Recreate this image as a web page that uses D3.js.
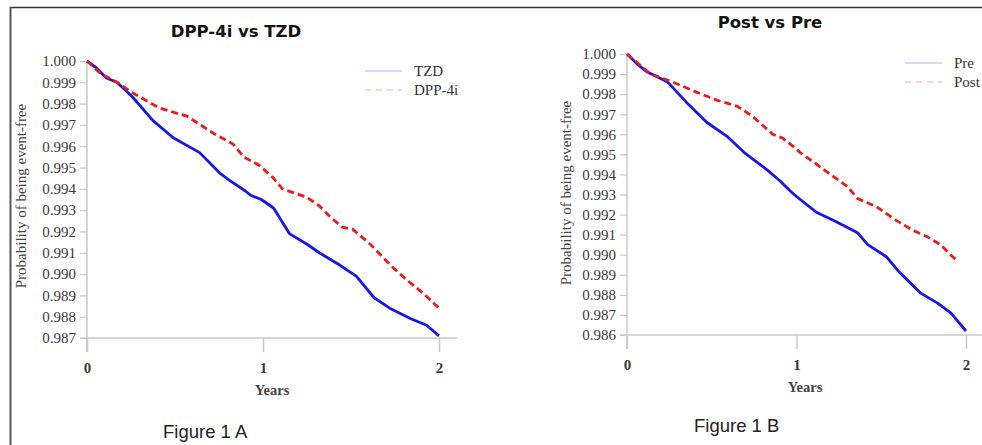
<!doctype html>
<html lang="en">
<head>
<meta charset="utf-8">
<script src="https://d3js.org/d3.v7.min.js"></script>
<style>
  body { margin: 0; background: #fff; }
  svg { display: block; }
</style>
</head>
<body>
<div id="viz"></div>
<script>
// ---- data ----
const yearTicks = [0, 1, 2];

// Figure 1 A
const tzdTime = [0, 0.05, 0.11, 0.17, 0.26, 0.375, 0.49, 0.64, 0.76, 0.81, 0.9, 0.93, 0.99, 1.06, 1.15, 1.25, 1.32, 1.44, 1.53, 1.63, 1.72, 1.84, 1.93, 2.0];
const tzdSurv = [1.0, 0.9997, 0.9992, 0.9990, 0.9983, 0.9972, 0.9964, 0.9957, 0.9947, 0.9944, 0.9939, 0.9937, 0.9935, 0.9931, 0.9919, 0.9914, 0.9910, 0.9904, 0.9899, 0.9889, 0.9884, 0.9879, 0.9876, 0.9871];
const dppTime = [0, 0.08, 0.17, 0.26, 0.41, 0.57, 0.72, 0.83, 0.89, 0.98, 1.06, 1.11, 1.25, 1.32, 1.38, 1.45, 1.51, 1.61, 1.68, 1.74, 1.82, 1.91, 2.0];
const dppSurv = [1.0, 0.9994, 0.9990, 0.9985, 0.9978, 0.9974, 0.9966, 0.9961, 0.9955, 0.9951, 0.9945, 0.9940, 0.9936, 0.9932, 0.9927, 0.9922, 0.9921, 0.9914, 0.9908, 0.9903, 0.9897, 0.9891, 0.9884];
const yTicksA = [1.000, 0.999, 0.998, 0.997, 0.996, 0.995, 0.994, 0.993, 0.992, 0.991, 0.990, 0.989, 0.988, 0.987];

// Figure 1 B
const preTime = [0, 0.06, 0.12, 0.24, 0.35, 0.47, 0.59, 0.69, 0.83, 0.90, 0.96, 1.0, 1.12, 1.22, 1.36, 1.42, 1.53, 1.61, 1.73, 1.83, 1.91, 2.0];
const preSurv = [1.0, 0.9995, 0.9991, 0.9986, 0.9976, 0.9966, 0.9959, 0.9951, 0.9942, 0.9937, 0.9932, 0.9929, 0.9921, 0.9917, 0.9911, 0.9905, 0.9899, 0.9891, 0.9881, 0.9876, 0.9871, 0.9862];
const postTime = [0, 0.07, 0.14, 0.27, 0.41, 0.53, 0.65, 0.74, 0.86, 0.92, 0.98, 1.02, 1.12, 1.20, 1.30, 1.36, 1.47, 1.59, 1.69, 1.77, 1.85, 1.92, 1.95];
const postSurv = [1.0, 0.9995, 0.9990, 0.9986, 0.9981, 0.9977, 0.9974, 0.9969, 0.9960, 0.9958, 0.9954, 0.9951, 0.9945, 0.9940, 0.9934, 0.9928, 0.9924, 0.9917, 0.9912, 0.9909, 0.9905, 0.9899, 0.9897];
const yTicksB = [1.000, 0.999, 0.998, 0.997, 0.996, 0.995, 0.994, 0.993, 0.992, 0.991, 0.990, 0.989, 0.988, 0.987, 0.986];

const width = 982, height = 445;
const serif = "'Liberation Serif', 'Times New Roman', serif";
const sans = "'Liberation Sans', Arial, sans-serif";
const titleFont = "'DejaVu Sans', Verdana, sans-serif";

const svg = d3.select("#viz").append("svg")
    .attr("width", width)
    .attr("height", height);

// frame (top + left edges only)
svg.append("line").attr("x1", 10).attr("x2", width).attr("y1", 7.5).attr("y2", 7.5)
    .attr("stroke", "#333").attr("stroke-width", 1.5);
svg.append("line").attr("x1", 10.5).attr("x2", 10.5).attr("y1", 7).attr("y2", height)
    .attr("stroke", "#555").attr("stroke-width", 2);

function drawPanel(p) {
  const x = d3.scaleLinear().domain([0, 2]).range(p.xRange);
  const y = d3.scaleLinear().domain([p.yTicks[p.yTicks.length - 1], 1]).range(p.yRange);
  const g = svg.append("g");
  const axisColor = "#c8c8c8";

  // axis lines
  g.append("line")
      .attr("x1", x(0)).attr("x2", x(0))
      .attr("y1", y(1)).attr("y2", y.range()[0] + 14)
      .attr("stroke", axisColor).attr("stroke-width", 1.5);
  g.append("line")
      .attr("x1", x(0) - 7).attr("x2", x(2) + p.xExtra)
      .attr("y1", y.range()[0]).attr("y2", y.range()[0])
      .attr("stroke", axisColor).attr("stroke-width", 1.5);

  // y axis
  const ya = g.append("g")
      .attr("transform", `translate(${x(0)},0)`)
      .call(d3.axisLeft(y).tickValues(p.yTicks).tickFormat(d3.format(".3f")).tickSize(7).tickPadding(4));
  ya.select(".domain").remove();
  ya.selectAll(".tick line").attr("stroke", axisColor).attr("stroke-width", 1.2);
  ya.selectAll(".tick text").attr("fill", "#3a3a3a").style("font", `15px ${serif}`);

  // x axis
  const xa = g.append("g")
      .attr("transform", `translate(0,${y.range()[0]})`)
      .call(d3.axisBottom(x).tickValues(yearTicks).tickFormat(d3.format("d")).tickSize(14).tickPadding(10));
  xa.select(".domain").remove();
  xa.selectAll(".tick line").attr("stroke", axisColor).attr("stroke-width", 1.5);
  xa.selectAll(".tick text").attr("fill", "#3a3a3a").style("font", `bold 15px ${serif}`);

  // curves
  const line = d3.line().x(d => x(d[0])).y(d => y(d[1]));
  g.append("path")
      .datum(d3.zip(p.blueT, p.blueS))
      .attr("fill", "none").attr("stroke", "#1515f0").attr("stroke-width", 2.8)
      .attr("stroke-linejoin", "round")
      .attr("d", line);
  g.append("path")
      .datum(d3.zip(p.redT, p.redS))
      .attr("fill", "none").attr("stroke", "#f01818").attr("stroke-width", 2.8)
      .attr("stroke-dasharray", "7,4")
      .attr("d", line);

  // legend
  p.legend.forEach((lg, i) => {
    const ly = p.legendY + i * 19;
    g.append("line")
        .attr("x1", p.legendX).attr("x2", p.legendX + 37)
        .attr("y1", ly).attr("y2", ly)
        .attr("stroke", lg.color).attr("stroke-width", 1.2)
        .attr("stroke-dasharray", lg.dash);
    g.append("text")
        .attr("x", p.legendX + 49).attr("y", ly + 5)
        .attr("fill", "#333")
        .style("font", `15px ${serif}`)
        .text(lg.name);
  });

  // titles and labels
  g.append("text")
      .attr("x", p.titleX).attr("y", p.titleY)
      .attr("text-anchor", "middle")
      .attr("fill", "#111")
      .style("font", `bold 16.5px ${titleFont}`)
      .text(p.title);
  g.append("text")
      .attr("x", p.yearsX).attr("y", y.range()[0] + 57)
      .attr("text-anchor", "middle")
      .attr("fill", "#444")
      .style("font", `bold 14.5px ${serif}`)
      .text("Years");
  g.append("text")
      .attr("transform", `translate(${p.yLabelX},${p.yLabelY}) rotate(-90)`)
      .attr("text-anchor", "middle")
      .attr("fill", "#444")
      .style("font", `15px ${serif}`)
      .text("Probability of being event-free");
  g.append("text")
      .attr("x", p.figX).attr("y", p.figY)
      .attr("fill", "#222")
      .style("font", `18.5px ${sans}`)
      .text(p.figure);
}

drawPanel({
  xRange: [87, 439], yRange: [338, 61], xExtra: 18, yTicks: yTicksA,
  blueT: tzdTime, blueS: tzdSurv, redT: dppTime, redS: dppSurv,
  legend: [{name: "TZD", color: "#a8b0f4", dash: null}, {name: "DPP-4i", color: "#f8a8a8", dash: "6,5"}],
  legendX: 365, legendY: 71,
  title: "DPP-4i vs TZD", titleX: 236, titleY: 37,
  yearsX: 272, yLabelX: 26, yLabelY: 196,
  figure: "Figure 1 A", figX: 163, figY: 438
});

drawPanel({
  xRange: [627, 966], yRange: [335, 54], xExtra: 20, yTicks: yTicksB,
  blueT: preTime, blueS: preSurv, redT: postTime, redS: postSurv,
  legend: [{name: "Pre", color: "#a8b0f4", dash: null}, {name: "Post", color: "#f8a8a8", dash: "6,5"}],
  legendX: 905, legendY: 63,
  title: "Post vs Pre", titleX: 770, titleY: 28,
  yearsX: 805, yLabelX: 571, yLabelY: 193,
  figure: "Figure 1 B", figX: 694, figY: 432
});
</script>
</body>
</html>
